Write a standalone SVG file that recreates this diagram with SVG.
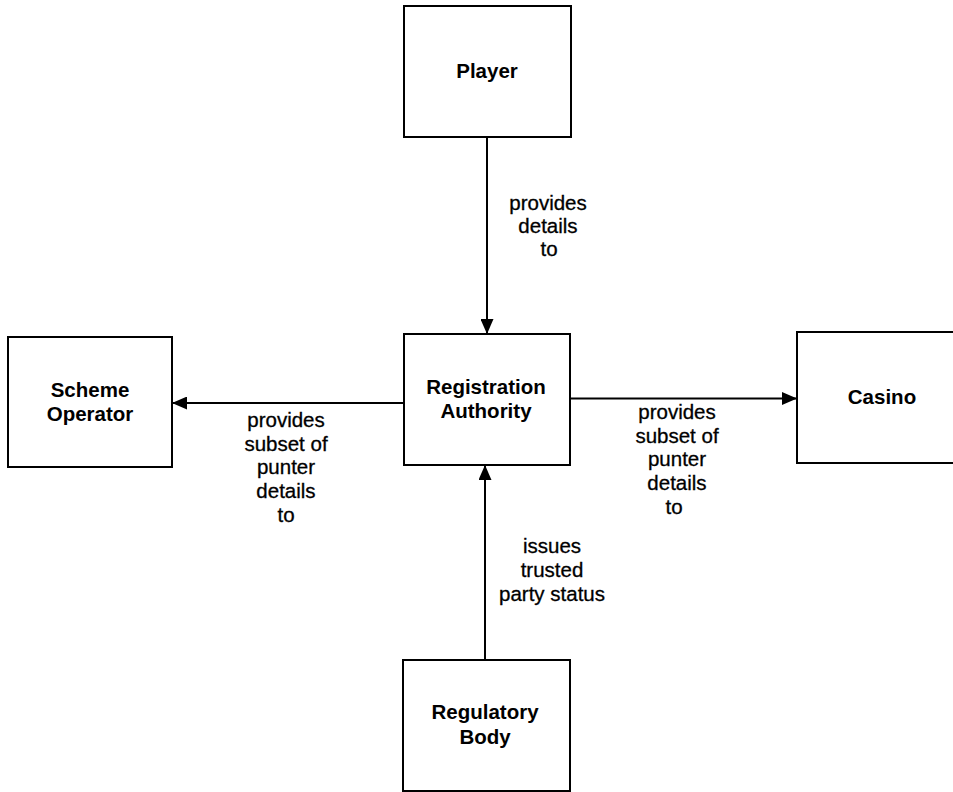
<svg xmlns="http://www.w3.org/2000/svg" width="953" height="792" viewBox="0 0 953 792">
<style>
.box{fill:#fff;stroke:#000;stroke-width:2}
.nt{font-family:"Liberation Sans",Arial,sans-serif;font-size:20.5px;font-weight:bold;text-anchor:middle;fill:#000}
.lt{font-family:"Liberation Sans",Arial,sans-serif;font-size:20.5px;text-anchor:middle;fill:#000;stroke:#000;stroke-width:0.3}
.ln{stroke:#000;stroke-width:2;fill:none;marker-end:url(#ah)}
</style>
<defs>
<marker id="ah" viewBox="0 0 15 13" refX="15" refY="6.5" markerWidth="15" markerHeight="13" markerUnits="userSpaceOnUse" orient="auto">
<path d="M0,0 L15,6.5 L0,13 Z" fill="#000"/>
</marker>
</defs>
<rect width="953" height="792" fill="#fff"/>
<g id="connectors">
<line class="ln" x1="487" y1="137" x2="487" y2="334"/>
<line class="ln" x1="404" y1="403" x2="172" y2="403"/>
<line class="ln" x1="570" y1="398.5" x2="797" y2="398.5"/>
<line class="ln" x1="485" y1="660" x2="485" y2="465"/>
<text class="lt" x="548" y="210">provides</text>
<text class="lt" x="548" y="233">details</text>
<text class="lt" x="549" y="256">to</text>
<text class="lt" x="286" y="427">provides</text>
<text class="lt" x="286" y="451">subset of</text>
<text class="lt" x="286" y="474">punter</text>
<text class="lt" x="286" y="498">details</text>
<text class="lt" x="286" y="522">to</text>
<text class="lt" x="677" y="419">provides</text>
<text class="lt" x="677" y="443">subset of</text>
<text class="lt" x="677" y="466">punter</text>
<text class="lt" x="677" y="490">details</text>
<text class="lt" x="674" y="514">to</text>
<text class="lt" x="552" y="553">issues</text>
<text class="lt" x="552" y="577">trusted</text>
<text class="lt" x="552" y="601">party status</text>
</g>
<g id="player">
<rect class="box" x="404" y="6" width="167" height="131"/>
<text class="nt" x="487" y="78">Player</text>
</g>
<g id="registration-authority">
<rect class="box" x="404" y="334" width="166" height="131"/>
<text class="nt" x="486" y="394">Registration</text>
<text class="nt" x="486" y="418">Authority</text>
</g>
<g id="scheme-operator">
<rect class="box" x="8" y="337" width="164" height="130"/>
<text class="nt" x="90" y="397">Scheme</text>
<text class="nt" x="90" y="421">Operator</text>
</g>
<g id="casino">
<rect class="box" x="797" y="332" width="165" height="131"/>
<text class="nt" x="882" y="404">Casino</text>
</g>
<g id="regulatory-body">
<rect class="box" x="403" y="660" width="167" height="131"/>
<text class="nt" x="485" y="719">Regulatory</text>
<text class="nt" x="485" y="744">Body</text>
</g>
</svg>
